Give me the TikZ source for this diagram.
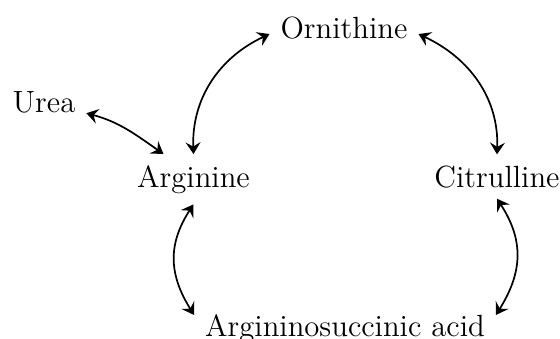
\documentclass[tikz,border=0pt]{standalone}
\usepackage{tikz}
\usetikzlibrary{arrows.meta,positioning}

\begin{document}
\begin{tikzpicture}[
    x=0.4695pt, y=0.4695pt,
    metab/.style={font=\Large, inner sep=5pt, anchor=base},
    arrow/.style={{Stealth[length=5.5pt,width=7pt,inset=2pt]}-{Stealth[length=5.5pt,width=7pt,inset=2pt]}, thick},
]
\useasboundingbox (0,0) rectangle (560,338);

% Metabolites
\node[metab] (orn) at (344,300) {Ornithine};
\node[metab] (urea) at (44,226) {Urea};
\node[metab] (arg) at (193.5,151) {Arginine};
\node[metab] (cit) at (497,151) {Citrulline};
\node[metab] (asa) at (345,2) {Argininosuccinic acid};

% Reactions
\draw[arrow] (arg.north) to[out=92, in=205] (orn.185);
\draw[arrow] (orn.-5) to[out=-25, in=88] (cit.north);
\draw[arrow] (urea.-15) to[out=-15, in=145] (arg.140);
\draw[arrow] (arg.south) to[out=237, in=122, looseness=1.1] (asa.175);
\draw[arrow] (cit.south) to[out=-57, in=58, looseness=1.1] (asa.5);

\end{tikzpicture}
\end{document}
